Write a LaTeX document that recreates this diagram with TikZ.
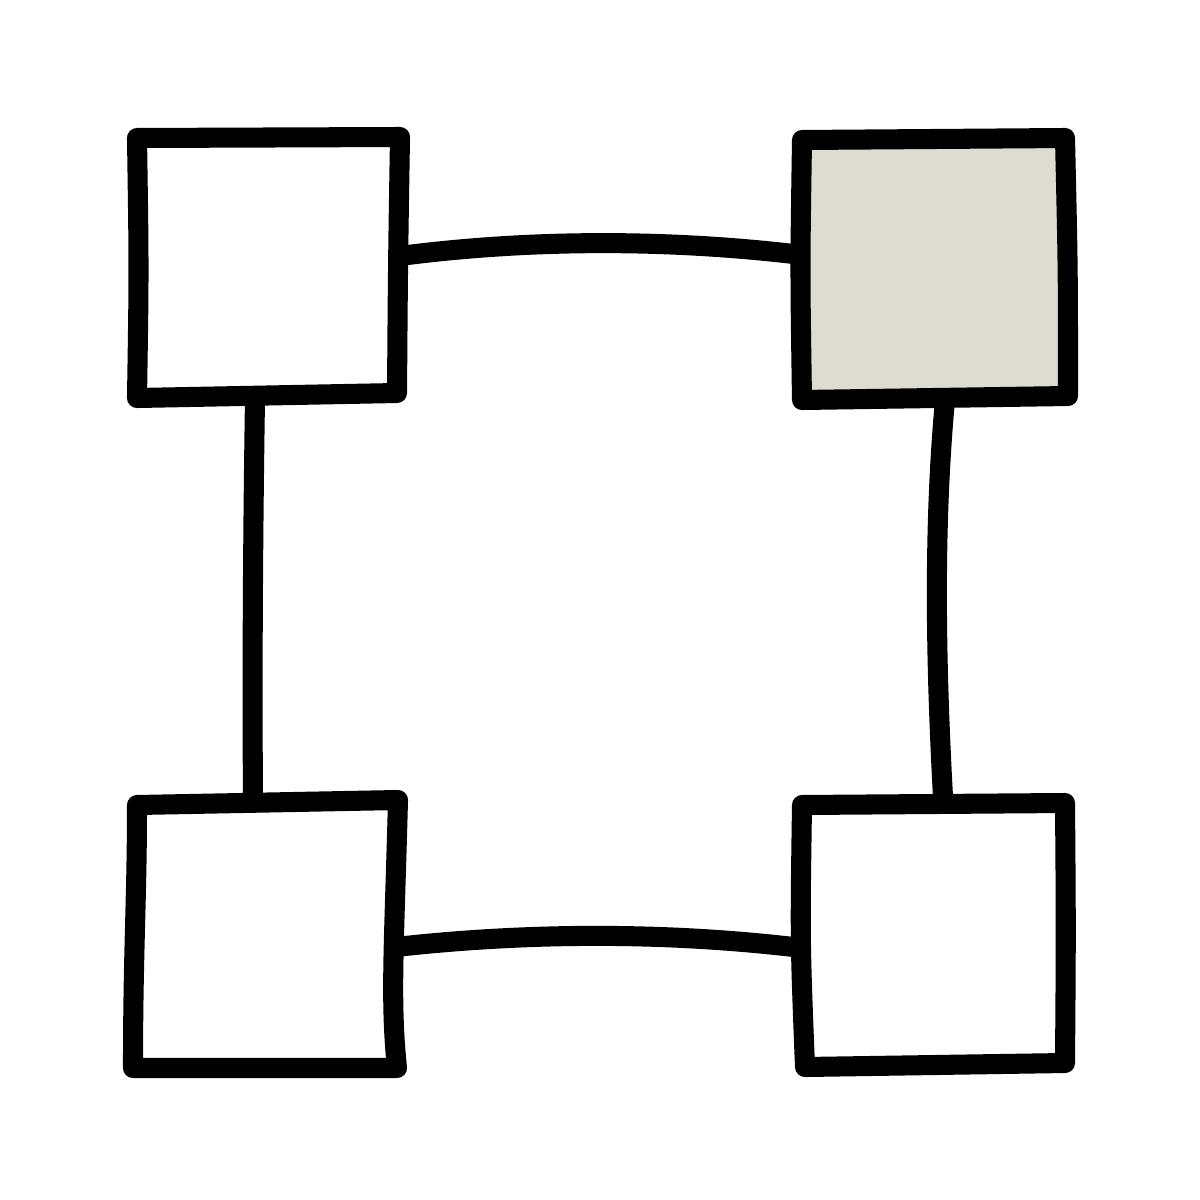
\documentclass[tikz,border=0pt]{standalone}
\definecolor{boxgray}{HTML}{DEDBD0}
\begin{document}
\begin{tikzpicture}[x=0.01cm,y=-0.01cm,
  box/.style={draw=black,line width=5.7pt,line join=round,fill=white},
  link/.style={draw=black,line width=5.7pt}]
\useasboundingbox (0,0) rectangle (1200,1200);
% connector end points
\coordinate (tl-r) at (400,256);
\coordinate (tr-l) at (802,255);
\coordinate (tl-b) at (255,398);
\coordinate (bl-t) at (253,800);
\coordinate (tr-b) at (945,400);
\coordinate (br-t) at (943,797);
\coordinate (bl-r) at (396,947);
\coordinate (br-l) at (802,948);
% connectors
\draw[link] (tl-r) .. controls (530,239) and (670,239) .. (tr-l);
\draw[link] (tl-b) .. controls (253,530) and (252,670) .. (bl-t);
\draw[link] (tr-b) .. controls (934,520) and (935,650) .. (br-t);
\draw[link] (bl-r) .. controls (530,932) and (670,932) .. (br-l);
% boxes
\draw[box] (137,138) -- (400,137) .. controls (398,260) .. (397,393) -- (137,398) .. controls (139,270) .. cycle;
\draw[box,fill=boxgray] (802,140) -- (1065,138) .. controls (1068,270) .. (1068,396) -- (802,400) .. controls (800,270) .. cycle;
\draw[box] (137,805) -- (398,800) .. controls (394,950) and (390,1000) .. (397,1068) -- (133,1068) .. controls (133,950) and (137,900) .. cycle;
\draw[box] (802,805) -- (1065,803) .. controls (1066,930) .. (1065,1063) -- (805,1067) .. controls (800,940) .. cycle;
\end{tikzpicture}
\end{document}
